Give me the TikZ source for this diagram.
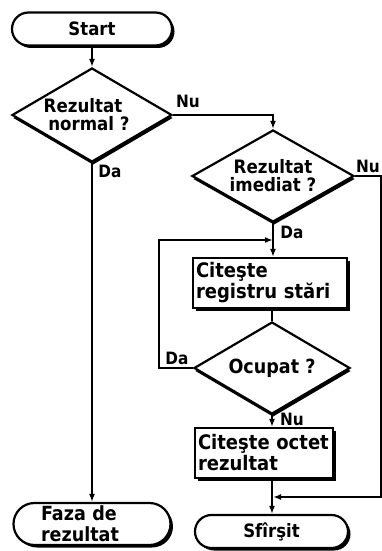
\documentclass[tikz,border=0pt]{standalone}
\usepackage{fontspec}
\setmainfont{DejaVu Sans}[FakeStretch=0.9]
\usetikzlibrary{shapes.geometric,shapes.misc,shadows,arrows.meta}
\begin{document}
\begin{tikzpicture}[x=1pt,y=-1pt,
  shapeline/.style={draw=black, line width=2.2pt, fill=white},
  boxshadow/.style={drop shadow={shadow xshift=2.5pt,shadow yshift=-2.5pt,opacity=1,fill=black}},
  terminal/.style={shapeline, rounded rectangle, boxshadow, inner sep=0pt, font=\bfseries\fontsize{18.4}{20}\selectfont, align=center},
  decision/.style={shapeline, diamond, inner sep=0pt, drop shadow={shadow xshift=1pt,shadow yshift=-3pt,opacity=1,fill=black}, font=\bfseries\fontsize{18.5}{18}\selectfont, align=center},
  process/.style={shapeline, rectangle, boxshadow, inner ysep=0pt, inner xsep=3pt, font=\bfseries\fontsize{20}{21}\selectfont, align=left},
  conn/.style={line width=1.6pt, -{Latex[length=8pt,width=6pt]}},
  plain/.style={line width=1.6pt},
  lbl/.style={font=\bfseries\fontsize{17}{17}\selectfont, inner sep=0pt}
]
\useasboundingbox (0,0) rectangle (382,551);

\node[terminal, minimum width=160pt, minimum height=33pt] (start) at (92,29) {Start};
\node[decision, minimum width=160pt, minimum height=94pt, aspect=1.7] (d1) at (92,115) {Rezultat\hspace*{18pt}\\normal ?\hspace*{6pt}};
\node[decision, minimum width=162pt, minimum height=92pt, aspect=1.76] (d2) at (273,176) {Rezultat\\imediat ?};
\node[process, text width=148pt, minimum height=50pt] (b1) at (270,283) {Citeşte\\registru stări};
\node[decision, minimum width=156pt, minimum height=92pt, aspect=1.7, font=\bfseries\fontsize{19.5}{19}\selectfont] (d3) at (272,368) {Ocupat ?};
\node[process, text width=132pt, minimum height=50pt] (b2) at (264,453) {Citeşte octet\\rezultat};
\node[terminal, minimum width=153pt, minimum height=33pt] (stop) at (271.5,531.5) {Sfîrşit};
\node[terminal, minimum width=157pt, minimum height=42pt, text width=102pt, align=left, font=\bfseries\fontsize{19.5}{21}\selectfont] (faza) at (92,524) {Faza de\\rezultat};

\coordinate (j1) at (273,240);
\coordinate (j2) at (273,497);
\coordinate (rc) at (381,497);

\draw[conn] (start.south) -- (start.south |- d1.north);
\draw[conn] (d1.east) -| (d2.north);
\draw[conn] (d1.south) -- (d1.south |- faza.north);
\draw[conn] (d2.south) -- (d2.south |- b1.north);
\draw[plain] (d3.north |- b1.south) -- (d3.north);
\draw[conn] (d3.west) -- ++(-34,0) |- (j1);
\draw[conn] (d3.south) -- (d3.south |- b2.north);
\draw[conn] (d3.south |- b2.south) -- (d3.south |- stop.north);
\draw[conn] (d2.east) -| (rc) -- (j2);

\node[lbl] (nu1) at (188,101) {Nu};
\node[lbl] (da1) at (110,171) {Da};
\node[lbl] (nu2) at (368,166) {Nu};
\node[lbl] (da2) at (292,232) {Da};
\node[lbl] (da3) at (177,358) {Da};
\node[lbl] (nu3) at (292,419) {Nu};
\end{tikzpicture}
\end{document}
